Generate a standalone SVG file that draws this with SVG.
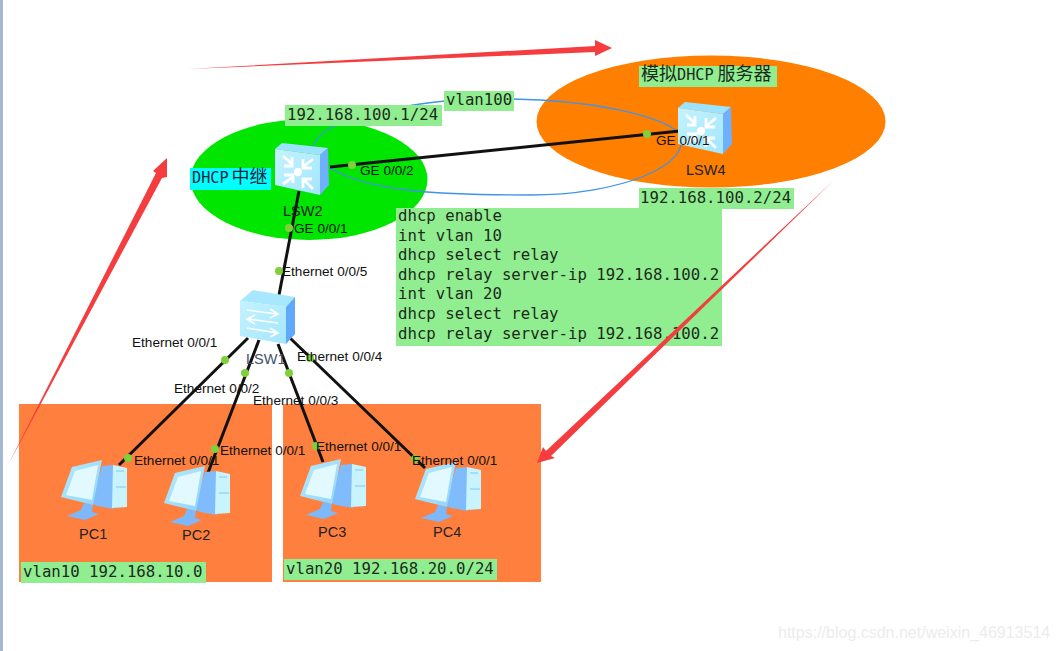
<svg xmlns="http://www.w3.org/2000/svg" width="1059" height="651" viewBox="0 0 1059 651">
<style>
.l{font-family:"Liberation Sans",Arial,sans-serif;font-size:13.6px;fill:#111}
.n{font-family:"Liberation Sans",Arial,sans-serif;font-size:14.5px;fill:#222}
.m{font-family:"DejaVu Sans Mono","Liberation Mono",monospace;font-size:15.7px;fill:#1c2b1c}
.cj{font-family:"Noto Sans CJK SC",sans-serif;font-size:18px;fill:#1c2b1c}
.lat{font-family:"DejaVu Sans Mono",monospace;font-size:15.2px}
.g{fill:#90ee90}
.w{stroke:#111;stroke-width:3;fill:none}
.b{stroke:#3f93e8;stroke-width:1.3;fill:none}
.d{fill:#7fd03a}
.r{fill:#f53d3f}
</style>
<defs>
<linearGradient id="sf" x1="0" y1="0" x2="1" y2="1"><stop offset="0" stop-color="#c4f3ff"/><stop offset="1" stop-color="#a3e6fd"/></linearGradient>
<linearGradient id="pc" x1="0" y1="0" x2="1" y2="1"><stop offset="0" stop-color="#b6ecfd"/><stop offset="1" stop-color="#8fd4fb"/></linearGradient>
<g id="l3">
<path d="M0 8 L7 2 L53 7 L45 14 Z" fill="#9be3ff"/>
<path d="M45 14 L53 7 L54 44 L45 54 Z" fill="#6fb0fa"/>
<path d="M0 8 L45 14 V54 L0 44 Z" fill="url(#sf)"/>
<circle cx="23" cy="31" r="4.2" fill="#fff"/>
<path d="M8 15 L18 24 M17 16 V25 H9 M38 18 L28 26 M28 18 V27 H37 M8 43 L18 36 M9 34 H18 V42 M38 48 L28 38 M37 38 H28 V47" stroke="#fff" stroke-width="2.8" fill="none"/>
</g>
<g id="l2">
<path d="M0 11 L13 0 L55 7 L46 17 Z" fill="#a8e8ff"/>
<path d="M46 17 L55 7 V44 L46 54 Z" fill="#5fa8fa"/>
<path d="M0 11 L46 17 V54 L0 46 Z" fill="url(#sf)"/>
<path d="M7 20 L37 24 M30 19 L38 24 L30 28 M38 33 L8 29 M15 25 L7 29 L15 34 M7 38 L37 43 M30 38 L38 43 L30 47" stroke="#fff" stroke-width="1.6" fill="none"/>
</g>
<g id="pcicon">
<path d="M30 44 L41 7 L52 6 L53 50 L36 47 Z" fill="#80bcfb"/>
<path d="M52 6 L66 9 L66 48 L51 49 Z" fill="#c8f4ff"/>
<path d="M55 12 H63 M55 28 H65" stroke="#7fc8f5" stroke-width="1.2"/>
<path d="M6 57 L20 51 L23 44 L32 46 L31 53 L38 55 L24 61 Z" fill="#7db8fb"/>
<path d="M0 38 L11 8 L41 1 L32 46 Z" fill="url(#pc)"/>
<path d="M5 36 L14 12 L37 6 L31 41 Z" fill="#e2faff"/>
</g>
</defs>
<rect width="1059" height="651" fill="#fff"/>
<rect x="0" y="0" width="3" height="651" fill="#a4b8d0"/>
<g id="zone-vlan10"><rect x="19" y="404" width="253" height="178" fill="#ff7f3e"/></g>
<g id="zone-vlan20"><rect x="283" y="404" width="258" height="178" fill="#ff7f3e"/></g>
<g id="zone-relay"><ellipse cx="309" cy="179.500" rx="118.500" ry="60.500" fill="#00e600"/></g>
<g id="zone-server"><ellipse cx="711" cy="121.500" rx="174.500" ry="66" fill="#ff8000"/></g>
<g id="connectors">
<path class="b" d="M313 146 C318 135 328 128 340 124 C365 114 395 106 445 101"/>
<path class="b" d="M512 99 C590 100 660 115 679 133 C695 165 620 195 530 195 C440 195 370 192 330 168"/>
<path class="w" d="M330 167 L680 131"/>
<path class="w" d="M299 191 L279 295"/>
<path class="w" d="M248 338 L119 465"/>
<path class="w" d="M259 340 L206 478"/>
<path class="w" d="M278 344 L323 462"/>
<path class="w" d="M290 338 L425 468"/>
</g>
<g id="lsw2"><use href="#l3" x="275" y="141"/><text class="n" x="283" y="216">LSW2</text></g>
<g id="lsw4"><use href="#l3" x="678" y="100"/><text class="n" x="686" y="175">LSW4</text></g>
<g id="lsw1"><use href="#l2" x="240" y="290"/><text class="n" x="246" y="364" style="fill:#44506a">LSW1</text></g>
<g id="pc1"><use href="#pcicon" x="61" y="459"/><text class="n" x="79" y="539">PC1</text></g>
<g id="pc2"><use href="#pcicon" x="164" y="465"/><text class="n" x="182" y="540">PC2</text></g>
<g id="pc3"><use href="#pcicon" x="300" y="458"/><text class="n" x="318" y="537">PC3</text></g>
<g id="pc4"><use href="#pcicon" x="415" y="461"/><text class="n" x="433" y="537">PC4</text></g>
<g id="ports">
<circle class="d" cx="352" cy="165" r="4"/><circle class="d" cx="647" cy="134" r="4"/>
<circle class="d" cx="289" cy="228" r="4"/><circle class="d" cx="279" cy="271" r="4"/>
<circle class="d" cx="225" cy="360" r="4"/><circle class="d" cx="245" cy="373" r="4"/>
<circle class="d" cx="289" cy="373" r="4"/><circle class="d" cx="310" cy="358" r="4"/>
<circle class="d" cx="128" cy="458" r="4"/><circle class="d" cx="215" cy="449" r="4"/>
<circle class="d" cx="316" cy="446" r="4"/><circle class="d" cx="415" cy="459" r="4"/>
</g>
<g id="port-labels">
<text class="l" x="360" y="175">GE 0/0/2</text>
<text class="l" x="656" y="145">GE 0/0/1</text>
<text class="l" x="294" y="233">GE 0/0/1</text>
<text class="l" x="282" y="276">Ethernet 0/0/5</text>
<text class="l" x="132" y="347">Ethernet 0/0/1</text>
<text class="l" x="174" y="393">Ethernet 0/0/2</text>
<text class="l" x="253" y="405">Ethernet 0/0/3</text>
<text class="l" x="297" y="361">Ethernet 0/0/4</text>
<text class="l" x="134" y="465">Ethernet 0/0/1</text>
<text class="l" x="220" y="455">Ethernet 0/0/1</text>
<text class="l" x="316" y="451">Ethernet 0/0/1</text>
<text class="l" x="412" y="465">Ethernet 0/0/1</text>
</g>
<g id="label-ip1"><rect class="g" x="285" y="105" width="157" height="21"/><text class="m" x="287" y="120">192.168.100.1/24</text></g>
<g id="label-vlan100"><rect class="g" x="444" y="91" width="70" height="20"/><text class="m" x="446" y="105">vlan100</text></g>
<g id="label-server"><rect class="g" x="639" y="66" width="138" height="21"/><text class="cj" x="641" y="80">模拟<tspan class="lat">DHCP</tspan><tspan dx="4">服务器</tspan></text></g>
<g id="label-relay"><rect x="190" y="168" width="81" height="22" fill="#00ffff"/><text class="cj" x="192" y="183" style="fill:#12233a"><tspan class="lat">DHCP</tspan><tspan dx="3">中继</tspan></text></g>
<g id="label-ip2"><rect class="g" x="639" y="188" width="155" height="21"/><text class="m" x="640" y="203">192.168.100.2/24</text></g>
<g id="label-cmd"><rect class="g" x="396" y="208" width="326" height="138"/>
<text class="m" x="398" y="221">dhcp enable</text>
<text class="m" x="398" y="241">int vlan 10</text>
<text class="m" x="398" y="260">dhcp select relay</text>
<text class="m" x="398" y="280">dhcp relay server-ip 192.168.100.2</text>
<text class="m" x="398" y="299">int vlan 20</text>
<text class="m" x="398" y="319">dhcp select relay</text>
<text class="m" x="398" y="339">dhcp relay server-ip 192.168.100.2</text></g>
<g id="label-vlan10"><rect class="g" x="21" y="562" width="185" height="21"/><text class="m" x="23" y="577">vlan10 192.168.10.0</text></g>
<g id="label-vlan20"><rect class="g" x="284" y="559" width="213" height="21"/><text class="m" x="286" y="574">vlan20 192.168.20.0/24</text></g>
<g id="red-arrows">
<polygon class="r" points="188,69 595,46 595,40 612,48 595,56 595,52"/>
<polygon class="r" points="8,465 162,178 167,177 167,158 153,171 156,173"/>
<polygon class="r" points="833,181 551,456 555,458 537,463 543,447 546,451"/>
</g>
<text x="778" y="638" font-family="'Liberation Sans',Arial,sans-serif" font-size="16" fill="#ececec">https://blog.csdn.net/weixin_46913514</text>
</svg>
